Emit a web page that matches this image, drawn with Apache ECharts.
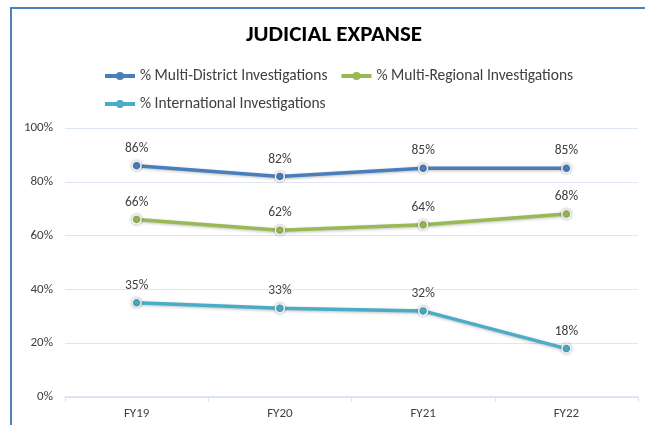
<!DOCTYPE html>
<html>
<head>
<meta charset="utf-8">
<script src="https://cdn.jsdelivr.net/npm/echarts@6/dist/echarts.min.js"></script>
<style>
  body { margin: 0; background: linear-gradient(90deg, #d4d4d4, #c2c2c2); }
  .frame {
    position: absolute; left: 10px; top: 7px; width: 640px; height: 420px;
    background: #fff; border-top: 2px solid #4f81bd; border-left: 2px solid #4f81bd;
  }
  #chart { position: absolute; left: 0; top: 0; width: 645px; height: 425px; }
</style>
</head>
<body>
<div class="frame"></div>
<div id="chart"></div>
<script>
// 数据
const categories = ["FY19", "FY20", "FY21", "FY22"];
const multiDistrict = [86, 82, 85, 85];
const multiRegional = [66, 62, 64, 68];
const international = [35, 33, 32, 18];
const yTicks = [0, 20, 40, 60, 80, 100];

const FONT = "Carlito, 'Liberation Sans Narrow', 'Open Sans', sans-serif";
const chart = echarts.init(document.getElementById("chart"));

function lineSeries(name, data, color) {
  return {
    name: name,
    type: "line",
    data: data,
    symbol: "circle",
    symbolSize: 9,
    lineStyle: { color: color, width: 3.5, shadowColor: "rgba(0,0,0,0.25)", shadowBlur: 3, shadowOffsetY: 1 },
    itemStyle: { color: color, borderColor: "#f2f2f2", borderWidth: 1.5, shadowColor: "rgba(0,0,0,0.3)", shadowBlur: 3 },
    label: {
      show: true, position: "top", distance: 5,
      formatter: "{c}%", color: "#404040", fontSize: 13.5, fontFamily: FONT
    },
    z: 3
  };
}

const legendText = { fontSize: 15.5, color: "#404040", fontFamily: FONT };

chart.setOption({
  animation: false,
  title: {
    text: "JUDICIAL EXPANSE",
    left: 329, top: 19, textAlign: "center",
    textStyle: { fontSize: 23, fontWeight: "bold", color: "#000", fontFamily: FONT }
  },
  legend: [
    {
      data: ["% Multi-District Investigations", "% Multi-Regional Investigations"],
      left: 98, top: 63, itemWidth: 30, itemHeight: 10, itemGap: 12,
      lineStyle: { width: 4 },
      itemStyle: { borderWidth: 0 },
      textStyle: legendText
    },
    {
      data: ["% International Investigations"],
      left: 98, top: 91, itemWidth: 30, itemHeight: 10,
      lineStyle: { width: 4 },
      itemStyle: { borderWidth: 0 },
      textStyle: legendText
    }
  ],
  grid: { left: 65, right: 7, top: 128, bottom: 28 },
  xAxis: {
    type: "category",
    data: categories,
    boundaryGap: true,
    axisLine: { lineStyle: { color: "#d6e2f0", width: 1.5 } },
    axisTick: { show: true, length: 5, lineStyle: { color: "#d6e2f0" } },
    axisLabel: { color: "#404040", fontSize: 13, margin: 10, fontFamily: FONT }
  },
  yAxis: {
    type: "value",
    min: yTicks[0], max: yTicks[yTicks.length - 1], interval: 20,
    axisLine: { show: false },
    axisTick: { show: false },
    splitLine: { lineStyle: { color: "#dce7f3", width: 1.2 } },
    axisLabel: { formatter: "{value}%", color: "#404040", fontSize: 13, margin: 12, fontFamily: FONT }
  },
  series: [
    lineSeries("% Multi-District Investigations", multiDistrict, "#4a7ebb"),
    lineSeries("% Multi-Regional Investigations", multiRegional, "#98b954"),
    lineSeries("% International Investigations", international, "#4bacc6")
  ]
});
</script>
</body>
</html>
